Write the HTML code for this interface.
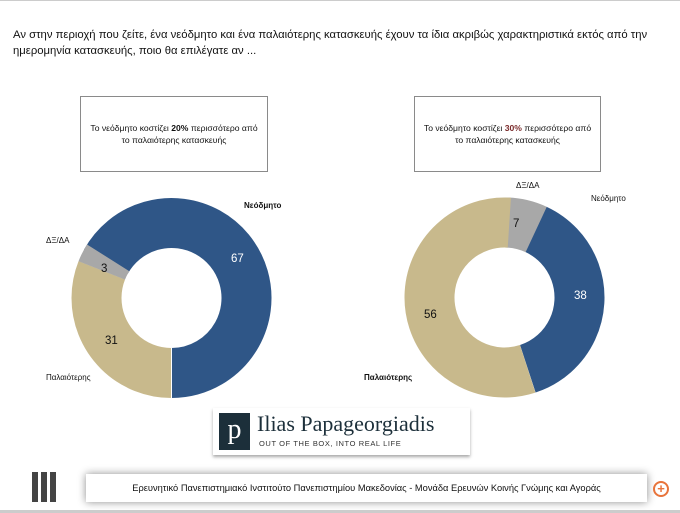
<!DOCTYPE html>
<html><head><meta charset="utf-8"><style>
body{margin:0;width:680px;height:513px;background:#fff;position:relative;overflow:hidden;font-family:"Liberation Sans","Noto Sans CJK JP",sans-serif;}
.t{position:absolute;left:13px;top:27px;font-size:11.3px;line-height:16px;color:#111;width:670px}
.box{position:absolute;border:1px solid #8a8a8a;font-size:8.6px;color:#111;text-align:center;line-height:12px;box-sizing:border-box;padding-top:25px}
.l{position:absolute;font-size:8px;color:#111}
.n{position:absolute;font-size:11.5px}
</style></head><body>
<div style="position:absolute;left:0;top:0;width:680px;height:1px;background:#ccc"></div>
<div class="t">Αν στην περιοχή που ζείτε, ένα νεόδμητο και ένα παλαιότερης κατασκευής έχουν τα ίδια ακριβώς χαρακτηριστικά εκτός από την ημερομηνία κατασκευής, ποιο θα επιλέγατε αν ...</div>
<div class="box" style="left:80px;top:96px;width:188px;height:76px">Το νεόδμητο κοστίζει <b>20%</b> περισσότερο από<br>το παλαιότερης κατασκευής</div>
<div class="box" style="left:414px;top:96px;width:187px;height:76px">Το νεόδμητο κοστίζει <b style="color:#7a2a2a">30%</b> περισσότερο από<br>το παλαιότερης κατασκευής</div>
<svg style="position:absolute;left:0;top:0" width="680" height="513">
<g fill="none" stroke-width="50">
<circle cx="171.5" cy="298" r="75" stroke="#2f5687" stroke-dasharray="315.7 1000" transform="rotate(209 171.5 298)"/>
<circle cx="171.5" cy="298" r="75" stroke="#c8b98c" stroke-dasharray="146.1 1000" transform="rotate(90 171.5 298)"/>
<circle cx="171.5" cy="298" r="75" stroke="#a8a8a8" stroke-dasharray="14.1 1000" transform="rotate(201.6 171.5 298)"/>
<circle cx="504.5" cy="297.5" r="75" stroke="#a8a8a8" stroke-dasharray="33 1000" transform="rotate(-90 504.5 297.5)"/>
<circle cx="504.5" cy="297.5" r="75" stroke="#2f5687" stroke-dasharray="179.1 1000" transform="rotate(-65 504.5 297.5)"/>
<circle cx="504.5" cy="297.5" r="75" stroke="#c8b98c" stroke-dasharray="263.9 1000" transform="rotate(72 504.5 297.5)"/>
</g>
<g stroke="#fff" stroke-width="1">
<line x1="171.5" y1="348" x2="171.5" y2="398"/>
</g>
</svg>
<div class="l" style="left:244px;top:201px;font-weight:bold">Νεόδμητο</div>
<div class="l" style="left:46px;top:236px">ΔΞ/ΔΑ</div>
<div class="l" style="left:46px;top:373px">Παλαιότερης</div>
<div class="n" style="left:231px;top:253px;color:#fff">67</div>
<div class="n" style="left:101px;top:263px;color:#111">3</div>
<div class="n" style="left:105px;top:335px;color:#111">31</div>
<div class="l" style="left:516px;top:181px">ΔΞ/ΔΑ</div>
<div class="l" style="left:591px;top:194px">Νεόδμητο</div>
<div class="l" style="left:364px;top:373px;font-weight:bold">Παλαιότερης</div>
<div class="n" style="left:513px;top:218px;color:#111">7</div>
<div class="n" style="left:574px;top:290px;color:#fff">38</div>
<div class="n" style="left:424px;top:309px;color:#111">56</div>
<div style="position:absolute;left:213px;top:408px;width:257px;height:47px;background:#fff;box-shadow:0 2px 3px rgba(0,0,0,.35)">
<div style="position:absolute;left:6px;top:5px;width:31px;height:37px;background:#1c2f3a;color:#fff;font-family:'Liberation Serif',serif;font-size:28px;text-align:center;line-height:34px">p</div>
<div style="position:absolute;left:44px;top:3px;font-family:'Liberation Serif',serif;font-size:22px;color:#1c2f3a">Ilias Papageorgiadis</div>
<div style="position:absolute;left:46px;top:31px;font-size:7.5px;letter-spacing:.6px;color:#333">OUT OF THE BOX, INTO REAL LIFE</div>
</div>
<div style="position:absolute;left:32px;top:472px;width:6px;height:30px;background:#444"></div>
<div style="position:absolute;left:41px;top:472px;width:6px;height:30px;background:#444"></div>
<div style="position:absolute;left:50px;top:472px;width:6px;height:30px;background:#444"></div>
<div style="position:absolute;left:86px;top:474px;width:561px;height:28px;background:#fff;box-shadow:0 0 8px rgba(0,0,0,.45);font-size:9.3px;color:#111;line-height:28px;text-align:center">Ερευνητικό Πανεπιστημιακό Ινστιτούτο Πανεπιστημίου Μακεδονίας - Μονάδα Ερευνών Κοινής Γνώμης και Αγοράς</div>
<div style="position:absolute;left:653px;top:481px;width:12px;height:12px;border:2px solid #e8743b;border-radius:50%;color:#e8743b;font-size:13px;line-height:12px;text-align:center;font-weight:bold">+</div>
<div style="position:absolute;left:0;top:510px;width:680px;height:3px;background:#ccc"></div>
</body></html>
